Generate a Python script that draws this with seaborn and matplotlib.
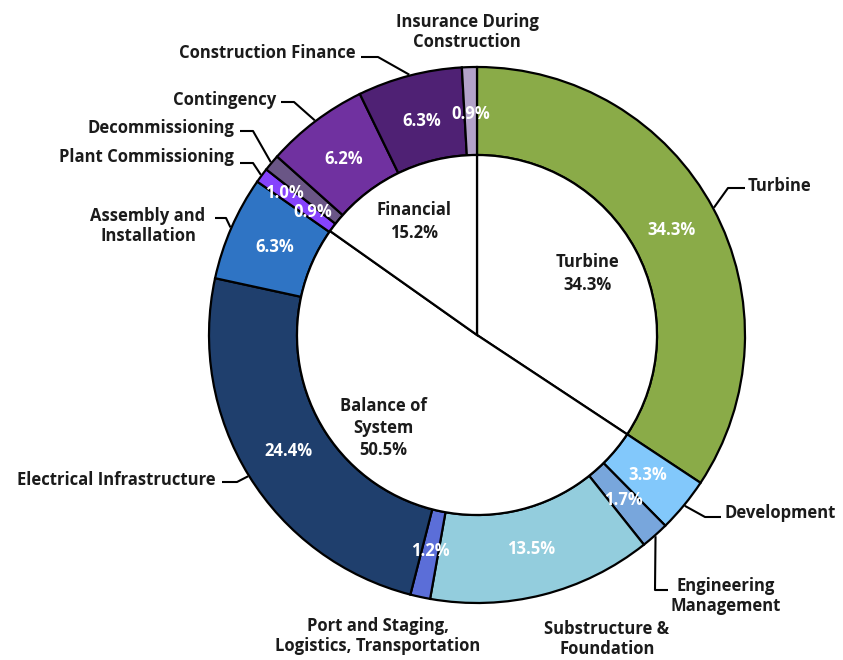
import numpy as np
import matplotlib
matplotlib.use("Agg")
import matplotlib.pyplot as plt
import seaborn as sns

# outer ring, clockwise from 12 o'clock
categories = ["Turbine", "Development", "Engineering\nManagement", "Substructure &\nFoundation",
              "Port and Staging,\nLogistics, Transportation", "Electrical Infrastructure",
              "Assembly and\nInstallation", "Plant Commissioning", "Decommissioning",
              "Contingency", "Construction Finance", "Insurance During\nConstruction"]
shares = [34.3, 3.3, 1.7, 13.5, 1.2, 24.4, 6.3, 0.9, 1.0, 6.2, 6.3, 0.9]
colors = ["#8aab48", "#82c8fb", "#78a6dc", "#93cddd", "#5b6ed8", "#1f3f6d",
          "#2f74c4", "#8643fd", "#6a5686", "#7031a0", "#4f2174", "#b3a2c9"]

# inner groups
groups = ["Turbine", "Balance of\nSystem", "Financial"]
group_shares = [34.3, 50.5, 15.2]

sns.set_theme(style="white")
plt.rcParams["font.family"] = ["Open Sans", "DejaVu Sans"]

W, H = 843, 660
CX, CY = 477, 335          # pixel centre (y down)
R_OUT, R_IN = 268, 180
TXT = "#1b1b1b"
FS = 12


def up(x, y):
    return x, H - y


def polar(frac, r):
    a = 2 * np.pi * frac
    return CX + r * np.sin(a), CY - r * np.cos(a)


fig = plt.figure(figsize=(W / 100, H / 100), dpi=100)
ax = fig.add_axes([0, 0, 1, 1])

ax.pie(shares, radius=R_OUT, center=up(CX, CY), startangle=90, counterclock=False,
       colors=sns.color_palette(colors),
       wedgeprops=dict(width=R_OUT - R_IN, edgecolor="black", linewidth=1.6))
ax.pie(group_shares, radius=R_IN, center=up(CX, CY), startangle=90, counterclock=False,
       colors=["white"] * 3, wedgeprops=dict(edgecolor="black", linewidth=1.6))

total = sum(shares)
cum = np.cumsum([0] + shares)
mids = [(cum[i] + shares[i] / 2) / total for i in range(len(shares))]

# percentage labels in the ring
pct_nudge = {7: (13, 9), 8: (-23, 0)}
for i, v in enumerate(shares):
    x, y = polar(mids[i], 221)
    dx, dy = pct_nudge.get(i, (0, 0))
    ax.text(*up(x + dx, y + dy), f"{v}%", color="white", fontsize=FS, fontweight="bold",
            ha="center", va="center")

# inner group labels
gcum = np.cumsum([0] + group_shares)
g_nudge = {0: (-4, 0), 1: (-20, -14), 2: (-3, 2)}
for i, g in enumerate(groups):
    m = (gcum[i] + group_shares[i] / 2) / sum(group_shares)
    x, y = polar(m, 130)
    dx, dy = g_nudge[i]
    ax.text(*up(x + dx, y + dy), f"{g}\n{group_shares[i]}%", color=TXT, fontsize=FS,
            fontweight="bold", ha="center", va="center", linespacing=1.3)

# outer labels: text position, alignment, leader elbow (pixel coords)
label_spec = [
    ((748, 186), "left", [(745, 188), (728, 188)]),
    ((725, 513), "left", [(721, 517), (705, 517)]),
    ((726, 596), "center", [(668, 590), (655, 590)]),
    ((607, 639), "center", None),
    ((378, 636), "center", None),
    ((216, 480), "right", [(222, 482), (237, 482)]),
    ((148, 226), "center", [(215, 218), (226, 218)]),
    ((234, 157), "right", [(240, 163), (253, 163)]),
    ((234, 128), "right", [(240, 131), (253, 131)]),
    ((276, 100), "right", [(281, 102), (294, 102)]),
    ((356, 53), "right", [(361, 57), (378, 57)]),
    ((467, 32), "center", None),
]
for i, (pos, ha, elbow) in enumerate(label_spec):
    ax.text(*up(*pos), categories[i], color=TXT, fontsize=FS, fontweight="bold",
            ha=ha, va="center", multialignment="center", linespacing=1.2)
    if elbow:
        ring = polar(mids[i], R_OUT + 1)
        pts = elbow + [ring]
        ax.plot([p[0] for p in pts], [H - p[1] for p in pts], color="black", lw=1.5,
                solid_capstyle="butt")

ax.set_xlim(0, W)
ax.set_ylim(0, H)
ax.set_aspect("equal")
ax.axis("off")
fig.savefig("out.png", dpi=100, facecolor="white")
